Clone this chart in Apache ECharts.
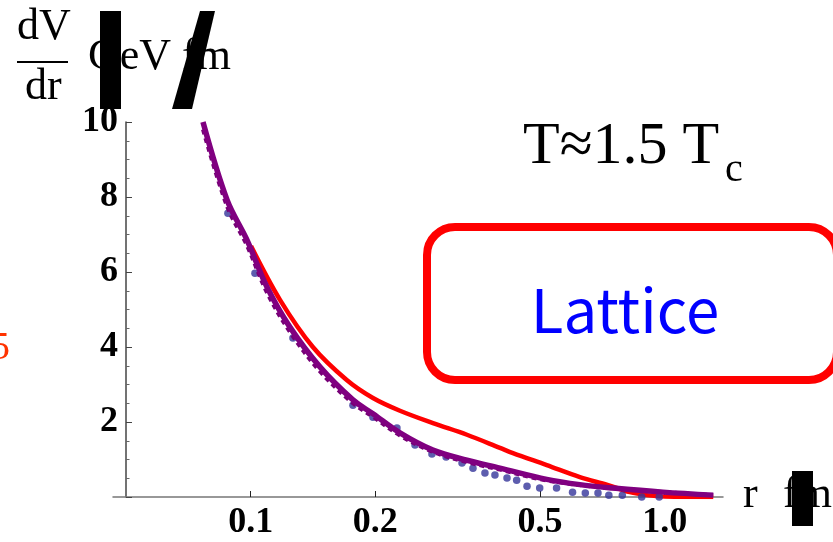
<!DOCTYPE html>
<html>
<head>
<meta charset="utf-8">
<script src="https://cdn.jsdelivr.net/npm/echarts@6/dist/echarts.min.js"></script>
<style>
  html, body { margin: 0; padding: 0; background: #fff; }
  #chart { width: 833px; height: 542px; }
</style>
</head>
<body>
<div id="chart"></div>
<script>
// Force dV/dr (GeV/fm) against r (fm), T ≈ 1.5 Tc

// Tick positions on the r axis and their labels
const rTicks = [0.1, 0.2, 0.5, 1.0];
const rTickLabels = ['0.1', '0.2', '0.5', '1.0'];
const rMin = 0.0465;
const rMax = 1.383;

// Purple fit curve
const rPurple = [0.0767, 0.0877, 0.098, 0.1095, 0.1244, 0.147, 0.1766, 0.1974, 0.2294, 0.2756, 0.333, 0.40, 0.519, 0.624, 0.75, 0.991, 1.31];
const vPurple = [10.0, 7.92, 6.85, 5.6, 4.53, 3.47, 2.59, 2.22, 1.71, 1.25, 0.98, 0.77, 0.47, 0.33, 0.24, 0.13, 0.05];

// Dashed companion curve
const rDash = [0.0767, 0.0877, 0.098, 0.1095, 0.1244, 0.147, 0.1766, 0.1974, 0.2294, 0.2756, 0.333, 0.40, 0.519, 0.75, 1.31];
const vDash = [9.8, 7.75, 6.7, 5.45, 4.4, 3.35, 2.5, 2.14, 1.64, 1.2, 0.93, 0.73, 0.44, 0.23, 0.05];

// Red model curve
const rRed = [0.1002, 0.1178, 0.1413, 0.1706, 0.1974, 0.2294, 0.2756, 0.333, 0.40, 0.43, 0.519, 0.624, 0.727, 0.824, 0.905, 1.0, 1.31];
const vRed = [6.69, 5.25, 4.0, 3.12, 2.64, 2.30, 1.97, 1.66, 1.31, 1.17, 0.85, 0.53, 0.32, 0.13, 0.05, 0.01, 0.0];

// Lattice points
const rLat = [0.0881, 0.1024, 0.1265, 0.1766, 0.1974, 0.2256, 0.2494, 0.274, 0.2965, 0.3239, 0.3443, 0.368, 0.389, 0.416, 0.439, 0.465, 0.499, 0.548, 0.599, 0.643, 0.69, 0.733, 0.79, 0.88, 0.97];
const vLat = [7.57, 5.97, 4.24, 2.45, 2.13, 1.84, 1.39, 1.15, 1.07, 0.91, 0.77, 0.64, 0.59, 0.51, 0.45, 0.29, 0.24, 0.24, 0.13, 0.11, 0.11, 0.05, 0.05, 0.0, 0.0];

// r is plotted on a base-10 logarithmic scale
const lg = Math.log10;
const pairs = (rs, vs) => rs.map((r, i) => [lg(r), vs[i]]);

const serif = '"Liberation Serif", "Times New Roman", serif';
const tickLogs = rTicks.map(lg);

const chart = echarts.init(document.getElementById('chart'), null, { renderer: 'canvas' });

chart.setOption({
  backgroundColor: '#ffffff',
  animation: false,
  grid: [
    { left: 113, right: 110, top: 122, bottom: 45 },
    { left: 126, right: 110, top: 122, bottom: 45 }
  ],
  xAxis: [
    {
      type: 'value',
      gridIndex: 0,
      min: lg(rMin),
      max: lg(rMax),
      splitLine: { show: false },
      axisLine: { show: true, lineStyle: { color: '#777', width: 1.5 } },
      axisTick: {
        show: true, inside: true, length: 6,
        customValues: tickLogs,
        lineStyle: { color: '#222', width: 1 }
      },
      axisLabel: {
        show: true,
        customValues: tickLogs,
        margin: 8,
        color: '#000',
        fontFamily: serif,
        fontWeight: 'bold',
        fontSize: 36,
        formatter: (v) => {
          let best = 0;
          tickLogs.forEach((t, i) => { if (Math.abs(t - v) < Math.abs(tickLogs[best] - v)) best = i; });
          return rTickLabels[best];
        }
      }
    },
    { type: 'value', gridIndex: 1, min: 0, max: 1, show: false }
  ],
  yAxis: [
    { type: 'value', gridIndex: 0, min: 0, max: 10, show: false },
    {
      type: 'value',
      gridIndex: 1,
      min: 0,
      max: 10,
      interval: 2,
      splitLine: { show: false },
      axisLine: { show: true, lineStyle: { color: '#444', width: 1.5 } },
      axisTick: { show: true, inside: true, length: 6, lineStyle: { color: '#444' } },
      minorTick: { show: true, splitNumber: 4, length: 3.5, lineStyle: { color: '#666' } },
      axisLabel: {
        showMinLabel: false,
        showMaxLabel: true,
        margin: 8,
        color: '#000',
        fontFamily: serif,
        fontWeight: 'bold',
        fontSize: 36,
        formatter: (v) => (v === 0 ? '' : String(v))
      }
    }
  ],
  series: [
    {
      name: 'model',
      type: 'line',
      xAxisIndex: 0, yAxisIndex: 0,
      data: pairs(rRed, vRed),
      smooth: 0.35,
      showSymbol: false,
      lineStyle: { color: '#ff0000', width: 4.5 },
      z: 2
    },
    {
      name: 'lattice',
      type: 'scatter',
      xAxisIndex: 0, yAxisIndex: 0,
      data: pairs(rLat, vLat),
      symbol: 'circle',
      symbolSize: 7.5,
      itemStyle: { color: '#34349a' },
      z: 3
    },
    {
      name: 'fit dashed',
      type: 'line',
      xAxisIndex: 0, yAxisIndex: 0,
      data: pairs(rDash, vDash),
      smooth: 0.35,
      showSymbol: false,
      lineStyle: { color: '#760076', width: 4, type: [5, 4] },
      z: 4
    },
    {
      name: 'fit',
      type: 'line',
      xAxisIndex: 0, yAxisIndex: 0,
      data: pairs(rPurple, vPurple),
      smooth: 0.35,
      showSymbol: false,
      lineStyle: { color: '#800080', width: 5.5 },
      z: 5
    }
  ],
  graphic: [
    // y axis title: dV/dr (GeV/fm)
    { type: 'text', silent: true, style: { x: 17, y: 27, text: 'dV', font: '44px ' + serif, fill: '#000', verticalAlign: 'middle' } },
    { type: 'rect', silent: true, shape: { x: 17, y: 61, width: 51, height: 2 }, style: { fill: '#000' } },
    { type: 'text', silent: true, style: { x: 25, y: 87, text: 'dr', font: '44px ' + serif, fill: '#000', verticalAlign: 'middle' } },
    { type: 'text', silent: true, style: { x: 88, y: 57, text: 'GeV fm', font: '44px ' + serif, fill: '#000', verticalAlign: 'middle' } },
    { type: 'rect', silent: true, shape: { x: 100, y: 11, width: 21, height: 98 }, style: { fill: '#000' } },
    { type: 'polygon', silent: true, shape: { points: [[200, 11], [215, 11], [192, 109], [172, 109]] }, style: { fill: '#000' } },
    // x axis title: r (fm)
    { type: 'text', silent: true, style: { x: 743, y: 495, text: 'r', font: '44px ' + serif, fill: '#000', verticalAlign: 'middle' } },
    { type: 'text', silent: true, style: { x: 783, y: 495, text: 'fm', font: '44px ' + serif, fill: '#000', verticalAlign: 'middle' } },
    { type: 'rect', silent: true, shape: { x: 792, y: 471, width: 21, height: 55 }, style: { fill: '#000' } },
    // temperature annotation
    { type: 'text', silent: true, style: { x: 523, y: 147, text: 'T≈1.5 T', font: '60px ' + serif, fill: '#000', verticalAlign: 'middle' } },
    { type: 'text', silent: true, style: { x: 725, y: 170, text: 'c', font: '40px ' + serif, fill: '#000', verticalAlign: 'middle' } },
    // lattice label box
    { type: 'rect', silent: true, shape: { x: 427, y: 227, width: 410, height: 153, r: 28 }, style: { fill: 'none', stroke: '#ff0000', lineWidth: 8 } },
    { type: 'text', silent: true, style: { x: 625, y: 310, text: 'Lattice', font: '60px "Noto Sans CJK JP", "Noto Sans", sans-serif', fill: '#0000ff', align: 'center', verticalAlign: 'middle' } },
    // stray digit at the left margin
    { type: 'text', silent: true, style: { x: -10, y: 348, text: '5', font: '40px ' + serif, fill: '#ff3300', verticalAlign: 'middle' } }
  ]
});
</script>
</body>
</html>
